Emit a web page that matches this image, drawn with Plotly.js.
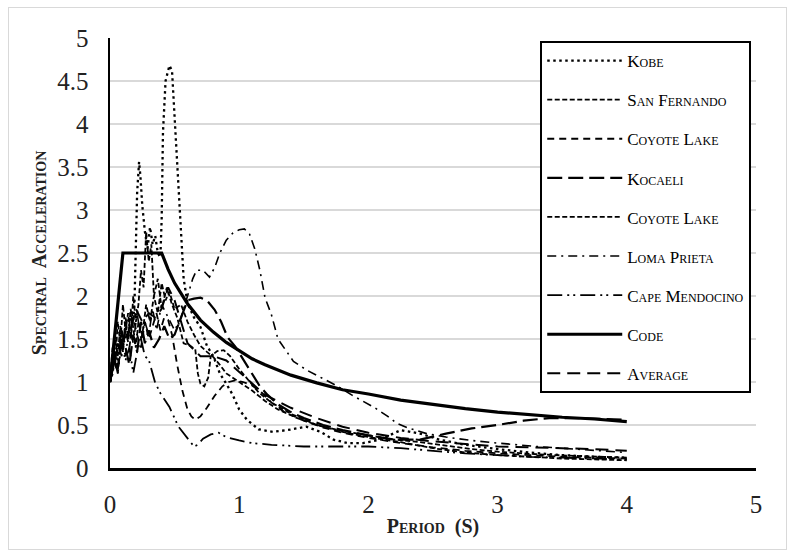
<!DOCTYPE html>
<html>
<head>
<meta charset="utf-8">
<script src="https://cdn.plot.ly/plotly-3.0.1.min.js"></script>
<style>
html,body{margin:0;padding:0;background:#fff;}
#wrap{position:relative;width:794px;height:557px;}
#chart{width:794px;height:557px;}
#frame{position:absolute;left:8px;top:7px;width:777px;height:541px;border:1px solid #d9d9d9;pointer-events:none;}
</style>
</head>
<body>
<div id="wrap"><div id="chart"></div><div id="frame"></div></div>
<script>
// ---- data (period in s, spectral acceleration) ----
var kobeT = [0,0.02,0.04,0.06,0.08,0.1,0.12,0.14,0.16,0.18,0.19,0.2,0.21,0.225,0.235,0.25,0.27,0.29,0.31,0.33,0.35,0.37,0.39,0.4,0.41,0.43,0.46,0.48,0.5,0.52,0.55,0.57,0.6,0.65,0.7,0.75,0.8,0.85,0.9,0.95,1.0,1.06,1.15,1.26,1.37,1.52,1.63,1.73,1.84,1.96,2.09,2.25,2.4,2.55,2.75,3.0,3.25,3.5,3.75,4.0];
var kobeSa = [1.0,1.1,1.35,1.2,1.5,1.4,1.65,1.5,1.8,1.7,1.95,2.6,3.2,3.56,3.4,3.05,2.75,2.55,2.8,2.6,2.7,2.5,2.45,2.9,3.9,4.5,4.68,4.62,4.1,3.5,2.8,2.2,1.92,1.75,1.64,1.42,1.3,1.1,0.98,0.85,0.68,0.56,0.45,0.42,0.44,0.48,0.42,0.33,0.29,0.29,0.33,0.44,0.4,0.33,0.27,0.22,0.18,0.15,0.13,0.12];

var sanFernandoT = [0,0.02,0.04,0.06,0.08,0.1,0.12,0.14,0.16,0.18,0.2,0.22,0.24,0.26,0.28,0.3,0.32,0.34,0.37,0.4,0.44,0.48,0.52,0.55,0.57,0.62,0.66,0.68,0.7,0.73,0.76,0.78,0.83,0.88,0.93,1.0,1.08,1.15,1.25,1.4,1.6,1.8,2.0,2.25,2.5,2.75,3.0,3.25,3.5,3.75,4.0];
var sanFernandoSa = [1.0,1.4,1.2,1.7,1.45,1.9,1.6,1.8,1.5,2.0,1.7,1.9,2.3,2.1,2.75,2.4,2.6,2.0,2.2,1.85,2.1,1.9,1.75,1.55,1.45,1.42,1.38,1.1,0.98,0.95,1.05,1.3,1.36,1.37,1.3,1.15,1.0,0.88,0.76,0.63,0.5,0.42,0.36,0.3,0.23,0.18,0.15,0.13,0.11,0.1,0.09];

var coyote1T = [0,0.03,0.06,0.09,0.12,0.15,0.18,0.21,0.24,0.27,0.3,0.33,0.36,0.39,0.42,0.45,0.48,0.52,0.56,0.6,0.63,0.66,0.7,0.75,0.81,0.87,0.92,0.97,1.03,1.1,1.18,1.25,1.35,1.5,1.65,1.8,2.0,2.25,2.5,2.75,3.0,3.25,3.5,3.75,4.0];
var coyote1Sa = [1.0,1.2,1.45,1.3,1.6,1.4,1.75,1.55,1.4,1.7,1.5,1.65,1.8,1.6,1.75,1.72,1.55,1.2,0.9,0.68,0.6,0.56,0.6,0.7,0.84,0.95,1.0,1.02,1.0,0.96,0.87,0.76,0.65,0.55,0.47,0.41,0.35,0.29,0.24,0.2,0.17,0.15,0.13,0.12,0.11];

var kocaeliT = [0,0.03,0.06,0.09,0.12,0.15,0.18,0.21,0.24,0.27,0.3,0.34,0.38,0.42,0.46,0.5,0.55,0.6,0.65,0.7,0.75,0.81,0.86,0.91,0.97,1.03,1.1,1.16,1.22,1.3,1.4,1.5,1.65,1.8,2.0,2.2,2.4,2.6,2.8,3.0,3.2,3.4,3.6,3.8,4.0];
var kocaeliSa = [1.0,1.35,1.15,1.6,1.4,1.2,1.55,1.35,1.7,1.45,1.6,1.4,1.5,1.65,1.5,1.55,1.75,1.95,1.97,1.98,1.95,1.84,1.7,1.52,1.41,1.26,1.1,0.95,0.85,0.74,0.65,0.58,0.5,0.44,0.38,0.33,0.33,0.4,0.46,0.5,0.55,0.58,0.58,0.57,0.56];

var coyote2T = [0,0.02,0.04,0.06,0.08,0.1,0.12,0.14,0.16,0.18,0.2,0.22,0.25,0.28,0.31,0.34,0.37,0.4,0.43,0.46,0.5,0.55,0.6,0.65,0.7,0.75,0.8,0.85,0.9,0.95,1.0,1.1,1.2,1.3,1.45,1.6,1.8,2.0,2.2,2.4,2.6,2.8,3.0,3.3,3.6,4.0];
var coyote2Sa = [1.0,1.15,1.5,1.3,1.65,1.35,1.75,1.5,1.85,1.6,1.4,1.7,1.55,1.9,1.7,2.0,1.8,2.15,1.95,2.05,1.85,1.9,1.7,1.55,1.42,1.35,1.29,1.2,1.1,1.05,1.0,0.9,0.78,0.68,0.58,0.5,0.43,0.38,0.33,0.3,0.26,0.22,0.19,0.16,0.14,0.12];

var lomaT = [0,0.03,0.06,0.09,0.12,0.15,0.18,0.21,0.24,0.27,0.3,0.33,0.36,0.4,0.45,0.5,0.55,0.6,0.64,0.67,0.72,0.77,0.81,0.85,0.9,0.95,1.0,1.04,1.08,1.12,1.16,1.2,1.25,1.3,1.36,1.42,1.52,1.62,1.75,1.87,1.97,2.05,2.15,2.22,2.3,2.45,2.6,2.8,3.0,3.3,3.6,4.0];
var lomaSa = [1.0,1.25,1.1,1.5,1.3,1.65,1.45,1.8,1.5,1.7,1.55,1.85,1.6,1.9,1.75,1.6,1.75,2.0,2.2,2.3,2.3,2.22,2.33,2.5,2.65,2.73,2.77,2.78,2.72,2.55,2.3,1.98,1.78,1.5,1.37,1.24,1.14,1.06,0.96,0.85,0.77,0.7,0.6,0.52,0.47,0.4,0.36,0.32,0.29,0.25,0.22,0.18];

var capeT = [0,0.03,0.06,0.09,0.12,0.15,0.18,0.21,0.24,0.27,0.3,0.35,0.39,0.46,0.53,0.58,0.62,0.65,0.68,0.72,0.78,0.84,0.9,1.0,1.1,1.25,1.5,1.75,2.0,2.25,2.5,2.75,3.0,3.25,3.5,3.75,4.0];
var capeSa = [1.0,1.3,1.1,1.45,1.25,1.4,1.1,1.35,1.5,1.3,1.26,0.99,0.87,0.71,0.48,0.38,0.3,0.25,0.27,0.34,0.39,0.41,0.36,0.32,0.29,0.27,0.25,0.25,0.25,0.23,0.2,0.17,0.15,0.13,0.12,0.11,0.1];

var codeT = [0,0.1,0.4,0.45,0.5,0.6,0.7,0.8,0.9,1.0,1.1,1.2,1.4,1.6,1.8,2.0,2.25,2.5,2.75,3.0,3.25,3.5,3.75,4.0];
var codeSa = [1.0,2.5,2.5,2.31,2.15,1.91,1.72,1.58,1.46,1.36,1.27,1.2,1.08,0.99,0.91,0.86,0.79,0.74,0.69,0.65,0.62,0.59,0.57,0.54];

var avgT = [0,0.05,0.1,0.15,0.2,0.25,0.3,0.35,0.4,0.45,0.5,0.55,0.6,0.7,0.8,0.9,1.0,1.1,1.2,1.4,1.6,1.8,2.0,2.25,2.5,2.75,3.0,3.25,3.5,3.75,4.0];
var avgSa = [1.0,1.35,1.5,1.55,1.85,1.7,1.8,1.75,1.85,2.1,1.95,1.7,1.45,1.3,1.3,1.25,1.12,0.98,0.85,0.7,0.58,0.48,0.41,0.35,0.31,0.28,0.25,0.24,0.23,0.22,0.2];

var seriesNames = ['Kobe','San Fernando','Coyote Lake','Kocaeli','Coyote Lake','Loma Prieta','Cape Mendocino','Code','Average'];
var yTickVals = [0,0.5,1,1.5,2,2.5,3,3.5,4,4.5,5];
var xTickVals = [0,1,2,3,4,5];

var serif = 'Liberation Serif, Times New Roman, serif';
function tr(x, y, i, dash, w) {
  return {x: x, y: y, name: seriesNames[i], type: 'scatter', mode: 'lines',
    legendgroup: 'g' + i,
    line: {color: '#000', width: w, dash: dash}};
}
var data = [
  tr(kobeT, kobeSa, 0, '2.5px,3.5px', 2.3),
  tr(sanFernandoT, sanFernandoSa, 1, '5px,2.5px', 1.8),
  tr(coyote1T, coyote1Sa, 2, '7px,5px', 1.8),
  tr(kocaeliT, kocaeliSa, 3, '15px,6px', 2.2),
  tr(coyote2T, coyote2Sa, 4, '5px,2.5px', 1.8),
  tr(lomaT, lomaSa, 5, '9px,5px,2px,5px', 1.6),
  tr(capeT, capeSa, 6, '15px,5px,2px,4px,2px,5px', 1.8),
  tr(codeT, codeSa, 7, 'solid', 3.2),
  tr(avgT, avgSa, 8, '13px,7px', 2)
];

var layout = {
  width: 794, height: 557,
  margin: {l: 110, r: 38, t: 38, b: 89},
  paper_bgcolor: '#fff', plot_bgcolor: '#fff',
  font: {family: serif, color: '#000'},
  showlegend: true,
  legend: {x: 0.666, y: 0.993, xanchor: 'left', yanchor: 'top',
    bgcolor: '#fff', bordercolor: '#000', borderwidth: 2,
    font: {family: serif, size: 17, color: '#000', variant: 'small-caps'},
    tracegroupgap: 14, itemwidth: 75},
  xaxis: {range: [0, 5], tickvals: xTickVals, showgrid: false, zeroline: false,
    showline: true, linecolor: '#000', linewidth: 2.5, ticks: '',
    tickfont: {family: serif, size: 25, color: '#222'}, ticklabelstandoff: 12,
    title: {text: 'Period\u00a0 (S)', standoff: 3,
      font: {family: serif, size: 20, weight: 'bold', variant: 'small-caps', color: '#222'}}},
  yaxis: {range: [0, 5], tickvals: yTickVals, showgrid: true, gridcolor: '#d9d9d9', gridwidth: 2,
    zeroline: false, showline: true, linecolor: '#000', linewidth: 2.5, ticks: '',
    tickfont: {family: serif, size: 25, color: '#222'}, ticklabelstandoff: 14,
    title: {text: 'Spectral\u00a0 Acceleration', standoff: 6,
      font: {family: serif, size: 20, weight: 'bold', variant: 'small-caps', color: '#222'}}}
};
Plotly.newPlot('chart', data, layout, {displayModeBar: false, staticPlot: true});
</script>
</body>
</html>
